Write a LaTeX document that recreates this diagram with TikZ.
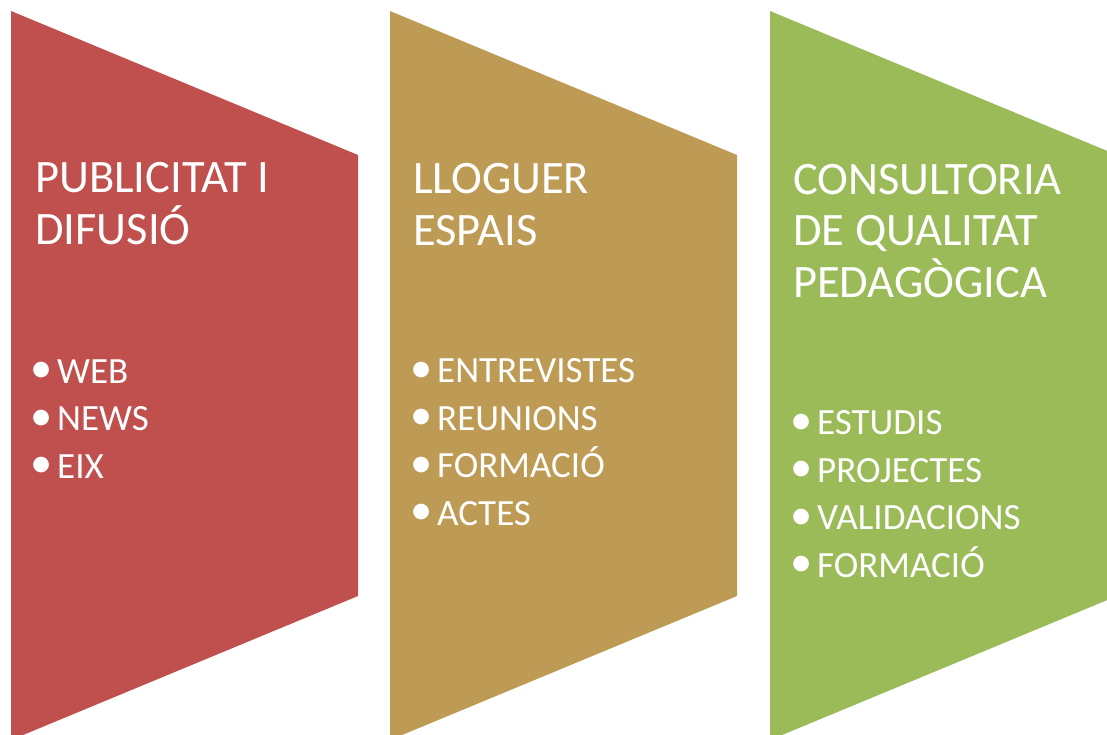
\documentclass[tikz,border=0pt]{standalone}
\usepackage{fontspec}
\setmainfont{Carlito}
\usetikzlibrary{positioning}
\definecolor{redfill}{HTML}{C0504D}
\definecolor{goldfill}{HTML}{BE9B54}
\definecolor{greenfill}{HTML}{9BBB59}
\newcommand{\itm}[1]{\makebox[22pt][l]{\hspace{-4.5pt}\raisebox{0.5pt}{\scalebox{1.2}{\textbullet}}}#1}

\begin{document}
\begin{tikzpicture}
		[x=1pt, y=-1pt, inner sep=0pt,
		title/.style	= {anchor=base west, align=left, text=white, font=\fontsize{46.5}{51.5}\selectfont},
		items/.style	= {anchor=base west, align=left, text=white, font=\fontsize{37}{47.5}\selectfont}]
		
		\useasboundingbox (0,0) rectangle (1107,734);
		\clip (0,0) rectangle (1107,734);
		
		\fill [redfill]		(11,11) -- (358,155) -- (358,596) -- (11,740) -- cycle;
		\fill [goldfill]	(390,11) -- (737,155) -- (737,596) -- (390,740) -- cycle;
		\fill [greenfill]	(770,11) -- (1117,155) -- (1117,596) -- (770,740) -- cycle;
		
		% base anchor sits on the last line
		\node at (35, 244)		[title]	(pub)	{PUBLICITAT I\\DIFUSIÓ};
		\node at (413, 245)		[title]	(llo)	{LLOGUER\\ESPAIS};
		\node at (793, 297)		[title]	(con)	{CONSULTORIA\\DE QUALITAT\\PEDAGÒGICA};
		
		\node at (35, 478)		[items]	(publ)	{\itm{WEB}\\\itm{NEWS}\\\itm{EIX}};
		\node at (415, 525)		[items]	(llol)	{\itm{ENTREVISTES}\\\itm{REUNIONS}\\\itm{FORMACIÓ}\\\itm{ACTES}};
		\node at (795, 577)		[items]	(conl)	{\itm{ESTUDIS}\\\itm{PROJECTES}\\\itm{VALIDACIONS}\\\itm{FORMACIÓ}};
		
\end{tikzpicture}
\end{document}
